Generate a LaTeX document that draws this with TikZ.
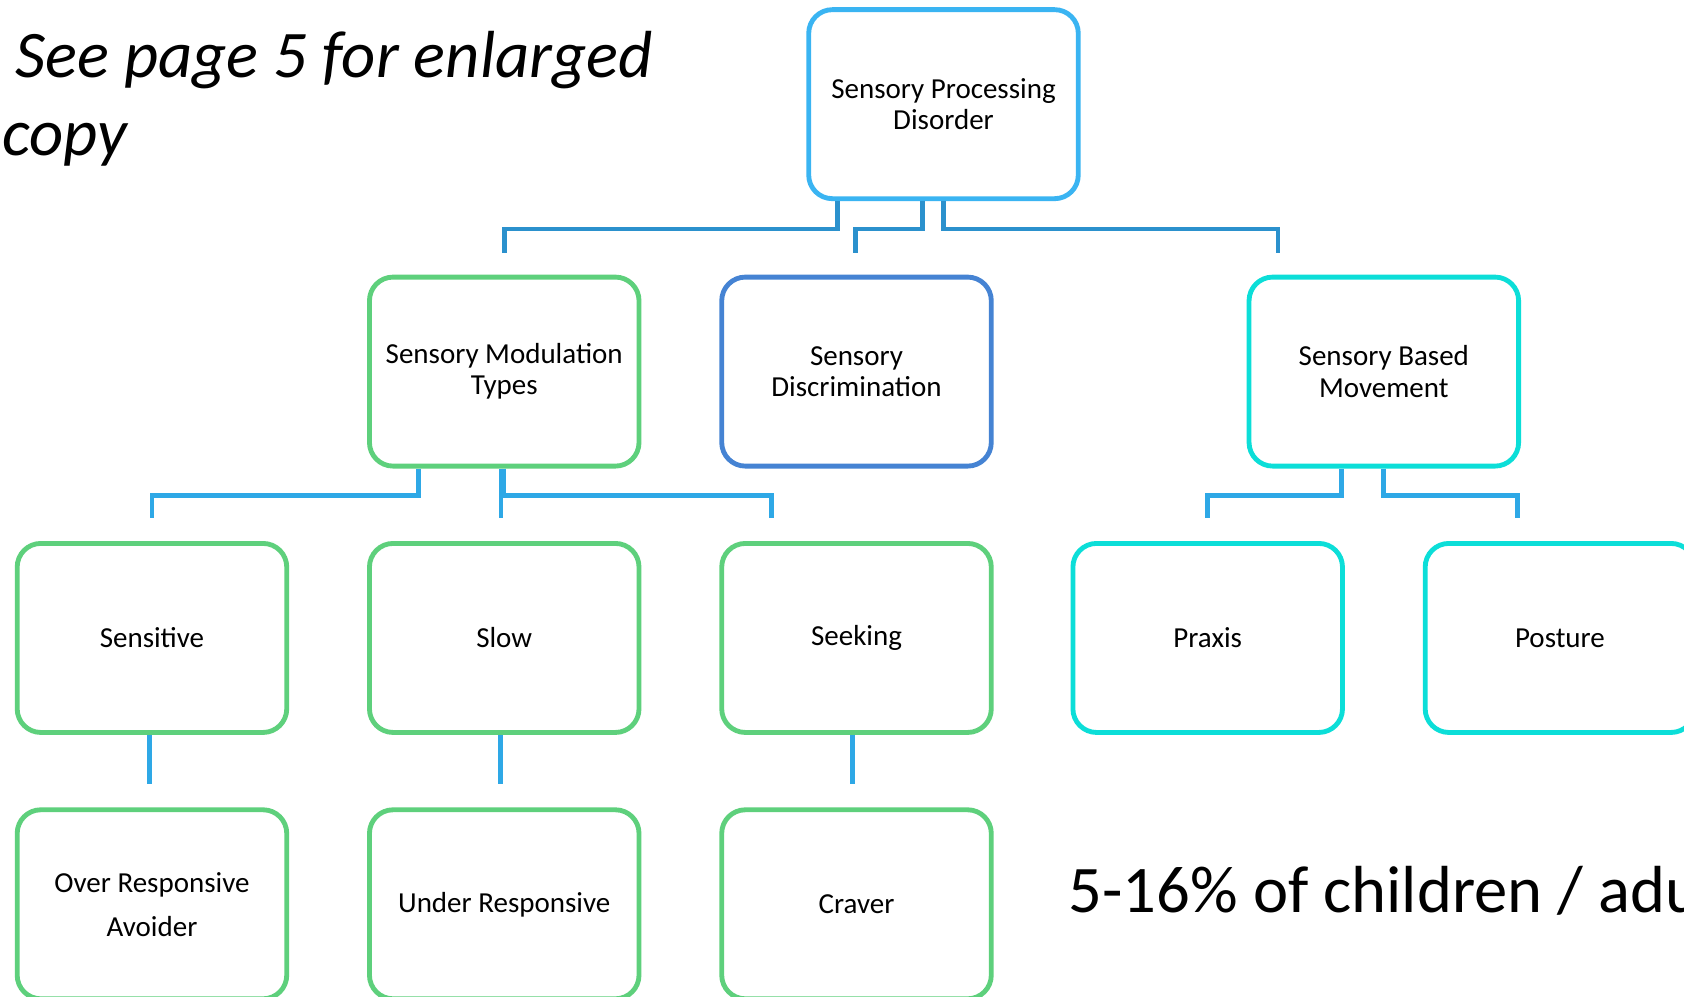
\documentclass[tikz,border=0pt]{standalone}
\usepackage{fontspec}
\setmainfont{Carlito}
\usetikzlibrary{calc}
\definecolor{cTop}{RGB}{58,180,242}
\definecolor{cGreen}{RGB}{94,208,124}
\definecolor{cDisc}{RGB}{69,131,211}
\definecolor{cCyan}{RGB}{12,222,216}
\definecolor{cLineA}{RGB}{43,145,205}
\definecolor{cLineB}{RGB}{46,168,230}
\tikzset{
  box/.style={draw, line width=4.5pt, rounded corners=22pt, fill=white,
    minimum width=251pt, minimum height=176pt, inner sep=0pt, align=center,
    font=\fontsize{27}{29}\selectfont},
  lineA/.style={draw=cLineA, line width=4.5pt},
  lineB/.style={draw=cLineB, line width=4.5pt},
  big/.style={inner sep=0pt, anchor=base west, font=\fontsize{62}{70}\selectfont}
}
\begin{document}
\begin{tikzpicture}[x=1pt,y=-1pt]
\useasboundingbox (0,0) rectangle (1568,928);
\clip (0,0) rectangle (1568,928);
\fill[white] (0,0) rectangle (1568,928);
% nodes
\node[box, draw=cTop] (spd) at (878.5,97) {Sensory Processing\\Disorder};
\node[box, draw=cGreen] (smt) at (469.5,346) {Sensory Modulation\\Types};
\node[box, draw=cDisc] (sd) at (797.5,346) {Sensory\\Discrimination};
\node[box, draw=cCyan] (sbm) at (1288.5,346) {Sensory Based\\Movement};
\node[box, draw=cGreen] (sens) at (141.5,594) {Sensitive};
\node[box, draw=cGreen] (slow) at (469.5,594) {Slow};
\node[box, draw=cGreen] (seek) at (797.5,594) {Seeking};
\node[box, draw=cCyan] (prax) at (1124.5,594) {Praxis};
\node[box, draw=cCyan] (post) at (1452.5,594) {Posture};
\node[box, draw=cGreen, font=\fontsize{27}{41}\selectfont] (over) at (141.5,842) {Over Responsive\\Avoider};
\node[box, draw=cGreen] (under) at (469.5,842) {Under Responsive};
\node[box, draw=cGreen] (crav) at (797.5,842) {Craver};
% level 1 connectors
\draw[lineA] ([xshift=-98.5pt]spd.south) -- ++(0,26) -| ([yshift=20pt]smt.north);
\draw[lineA] ([xshift=-19.5pt]spd.south) -- ++(0,26) -| ([yshift=20pt,xshift=-1pt]sd.north);
\draw[lineA] ([xshift=0pt]spd.south) -- ++(0,26) -| ([xshift=-98.5pt,yshift=20pt]sbm.north);
% level 2 connectors
\draw[lineB] ([xshift=-79.5pt]smt.south) -- ++(0,25) -| ([yshift=21pt]sens.north);
\draw[lineB] ([xshift=-3pt]smt.south) -- ([xshift=-3pt,yshift=21pt]slow.north);
\draw[lineB] ([xshift=-1pt]smt.south) -- ++(0,25) -| ([xshift=-79.5pt,yshift=21pt]seek.north);
\draw[lineB] ([xshift=-39.5pt]sbm.south) -- ++(0,25) -| ([yshift=21pt]prax.north);
\draw[lineB] ([xshift=0pt]sbm.south) -- ++(0,25) -| ([xshift=-39.5pt,yshift=21pt]post.north);
% level 3 connectors
\draw[lineB] ([xshift=-2.5pt]sens.south) -- ([xshift=-2.5pt,yshift=22pt]over.north);
\draw[lineB] ([xshift=-3.5pt]slow.south) -- ([xshift=-3.5pt,yshift=22pt]under.north);
\draw[lineB] ([xshift=-3.5pt]seek.south) -- ([xshift=-3.5pt,yshift=22pt]crav.north);
% free texts
\node[big, font=\fontsize{62}{70}\selectfont\itshape] (note1) at (14,72) {See page 5 for enlarged};
\node[big, font=\fontsize{62}{70}\selectfont\itshape] (note2) at (2,145) {copy};
\node[big] (stat) at (995,850) {5-16\% of children / adults};
\end{tikzpicture}
\end{document}
